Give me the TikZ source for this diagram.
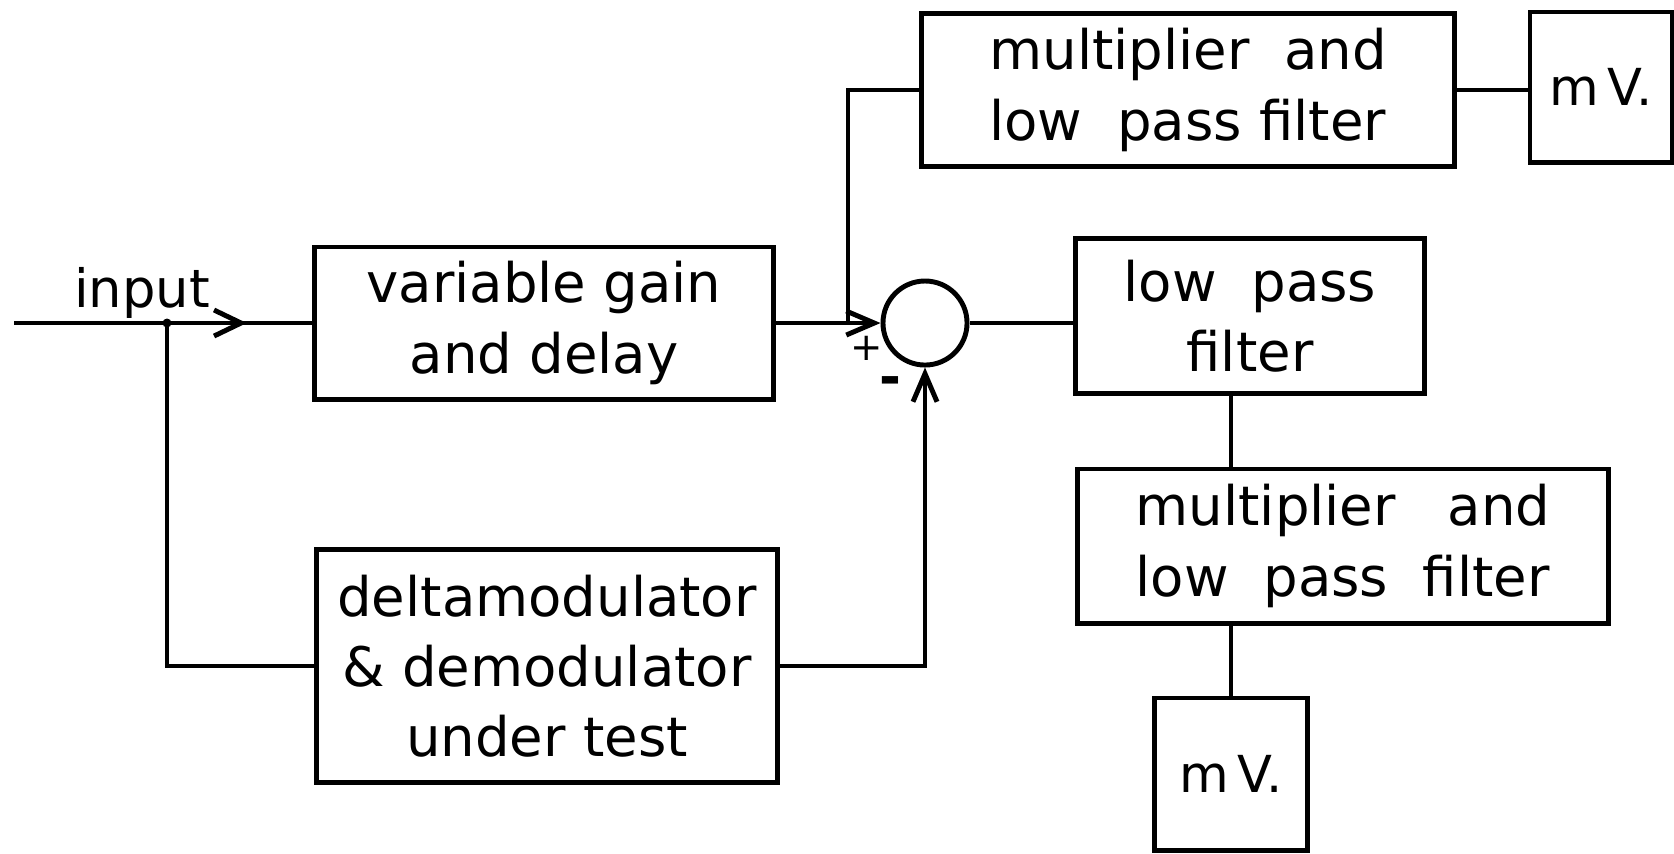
\documentclass[tikz,border=0pt]{standalone}
\usepackage{fontspec}
\setmainfont{DejaVu Sans}
\usetikzlibrary{arrows.meta, positioning, calc, decorations.markings}

\begin{document}
\begin{tikzpicture}[x=0.01cm, y=-0.01cm, line width=1.4pt,
        box/.style={draw, inner sep=0pt, align=center,
                    font=\fontsize{15.5}{20}\selectfont},
        sumj/.style={draw, circle, minimum size=0.84cm, inner sep=0pt},
        arr/.style={-{Straight Barb[length=0.28cm, width=0.24cm]}},
        midarr/.style={postaction={decorate},
                       decoration={markings, mark=at position #1 with
                         {\arrow{Straight Barb[length=0.27cm, width=0.26cm]}}}}
      ]
        \useasboundingbox (0,0) rectangle (1674,853);

        % forward path
        \node[box, minimum width=4.58cm, minimum height=1.52cm] (gain) at (544,323)
          {variable gain\\and delay};
        \node[box, minimum width=4.61cm, minimum height=2.33cm] (delta) at (547,666)
          {deltamodulator\\\& demodulator\\under test};
        \node[sumj] (sum) at (925,323) {};

        % measurement side
        \node[box, minimum width=5.32cm, minimum height=1.53cm, align=left] (mult1) at (1188,90)
          {multiplier\ \ and\\low\ \ pass filter};
        \node[box, minimum width=1.42cm, minimum height=1.50cm,
              font=\fontsize{14.5}{18}\selectfont] (mv1) at (1601,87) {m\,V.};
        \node[box, minimum width=3.49cm, minimum height=1.55cm] (lpf) at (1250,316)
          {low\ \ pass\\filter};
        \node[box, minimum width=5.31cm, minimum height=1.54cm, align=left] (mult2) at (1343,546)
          {multiplier\ \ \ and\\low\ \ pass\ \ filter};
        \node[box, minimum width=1.53cm, minimum height=1.52cm,
              font=\fontsize{14.5}{18}\selectfont] (mv2) at (1231,774) {m\,V.};

        \node[font=\fontsize{15}{20}\selectfont] (inlbl) at (142,293) {input};
        \node[font=\fontsize{11}{11}\selectfont] (plus) at (867,348) {+};
        \node[font=\fontsize{15}{15}\bfseries] (minus) at (890,386) {-};

        \coordinate (in) at (14,323);
        \coordinate (split) at (167,323);
        \coordinate (tap) at (848,323);

        \draw[midarr=0.78] (in) -- (gain.west);
        \fill (split) circle[radius=0.045cm];
        \draw (split) |- (delta.west);
        \draw[arr] (gain.east) -- (sum.west);
        \draw[arr] (delta.east) -| (sum.south);
        \draw (tap) |- (mult1.west);
        \draw (sum.east) -- (sum.east -| lpf.west);
        \draw (mult1.east) -- (mult1.east -| mv1.west);
        \draw (lpf.south -| mv2.north) -- (mult2.north -| mv2.north);
        \draw (mult2.south -| mv2.north) -- (mv2.north);
      \end{tikzpicture}
\end{document}
